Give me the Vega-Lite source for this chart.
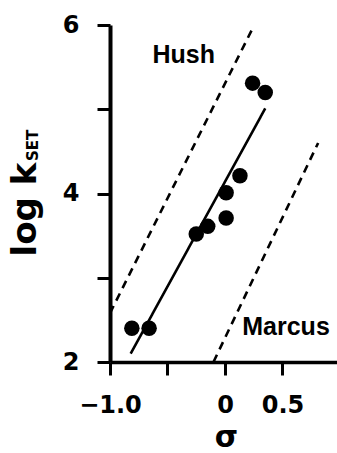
{
  "$schema": "https://vega.github.io/schema/vega-lite/v6.json",
  "width": 227,
  "height": 337,
  "autosize": "none",
  "padding": {"left": 110, "top": 25, "right": 0, "bottom": 91},
  "background": "white",
  "config": {"view": {"stroke": null}, "font": "DejaVu Sans"},
  "datasets": {
    "points": [
      {"sigma": -0.81, "logk": 2.40},
      {"sigma": -0.66, "logk": 2.40},
      {"sigma": -0.25, "logk": 3.52},
      {"sigma": -0.15, "logk": 3.61},
      {"sigma": 0.01, "logk": 3.71},
      {"sigma": 0.01, "logk": 4.01},
      {"sigma": 0.13, "logk": 4.21},
      {"sigma": 0.24, "logk": 5.31},
      {"sigma": 0.35, "logk": 5.20}
    ],
    "lines": [
      {"series": "fit", "kind": "solid", "sigma": -0.82, "logk": 2.10},
      {"series": "fit", "kind": "solid", "sigma": 0.35, "logk": 5.01},
      {"series": "Hush", "kind": "dashed", "sigma": -1.0, "logk": 2.58},
      {"series": "Hush", "kind": "dashed", "sigma": 0.24, "logk": 5.96},
      {"series": "Marcus", "kind": "dashed", "sigma": -0.10, "logk": 2.0},
      {"series": "Marcus", "kind": "dashed", "sigma": 0.81, "logk": 4.60}
    ],
    "labels": [
      {"text": "Hush", "sigma": -0.63, "logk": 5.55},
      {"text": "Marcus", "sigma": 0.15, "logk": 2.32}
    ],
    "subscript": [
      {"text": "SET", "sigma": -1.626, "logk": 4.57}
    ]
  },
  "encoding": {
    "x": {
      "field": "sigma",
      "type": "quantitative",
      "scale": {"domain": [-1, 0.974], "nice": false, "zero": false},
      "axis": {
        "title": "σ",
        "values": [-1, -0.5, 0, 0.5],
        "labelExpr": "datum.value == -1 ? '−1.0' : (datum.value == -0.5 ? '' : (datum.value == 0 ? '0' : '0.5'))",
        "grid": false,
        "tickSize": 13,
        "tickWidth": 3,
        "tickColor": "black",
        "domainWidth": 3.5,
        "domainColor": "black",
        "labelColor": "black",
        "labelFont": "DejaVu Sans",
        "labelFontWeight": "bold",
        "labelFontSize": 24,
        "labelPadding": 18,
        "labelFlush": false,
        "labelOverlap": false,
        "titleFont": "DejaVu Sans",
        "titleFontSize": 30,
        "titleFontWeight": "bold",
        "titleColor": "black",
        "titleBaseline": "alphabetic",
        "titleAlign": "center",
        "titleX": 116,
        "titleY": 84
      }
    },
    "y": {
      "field": "logk",
      "type": "quantitative",
      "scale": {"domain": [2, 6], "nice": false, "zero": false},
      "axis": {
        "title": "log k",
        "values": [2, 3, 4, 5, 6],
        "labelExpr": "datum.value % 2 == 0 ? datum.label : ''",
        "grid": false,
        "tickSize": 13,
        "tickWidth": 3,
        "tickColor": "black",
        "domainWidth": 4,
        "domainColor": "black",
        "labelColor": "black",
        "labelFont": "DejaVu Sans",
        "labelFontWeight": "bold",
        "labelFontSize": 24,
        "labelPadding": 18,
        "labelOverlap": false,
        "titleFont": "DejaVu Sans",
        "titleFontSize": 34,
        "titleFontWeight": "bold",
        "titleColor": "black",
        "titleAngle": 270,
        "titleAlign": "center",
        "titleBaseline": "alphabetic",
        "titleX": -75,
        "titleY": 184
      }
    }
  },
  "layer": [
    {
      "data": {"name": "lines"},
      "mark": {"type": "line", "clip": true, "color": "black", "strokeWidth": 2.6},
      "encoding": {
        "detail": {"field": "series", "type": "nominal"},
        "strokeDash": {
          "field": "kind",
          "type": "nominal",
          "scale": {"domain": ["solid", "dashed"], "range": [[1, 0], [8, 6]]},
          "legend": null
        }
      }
    },
    {
      "data": {"name": "points"},
      "mark": {"type": "circle", "size": 240, "color": "black", "opacity": 1}
    },
    {
      "data": {"name": "labels"},
      "mark": {"type": "text", "align": "left", "baseline": "alphabetic", "font": "Liberation Sans", "fontWeight": "bold", "fontSize": 25, "color": "black"},
      "encoding": {"text": {"field": "text", "type": "nominal"}}
    },
    {
      "data": {"name": "subscript"},
      "mark": {"type": "text", "angle": 270, "align": "center", "baseline": "alphabetic", "font": "DejaVu Sans", "fontWeight": "bold", "fontSize": 15, "color": "black", "clip": false},
      "encoding": {"text": {"field": "text", "type": "nominal"}}
    }
  ]
}
